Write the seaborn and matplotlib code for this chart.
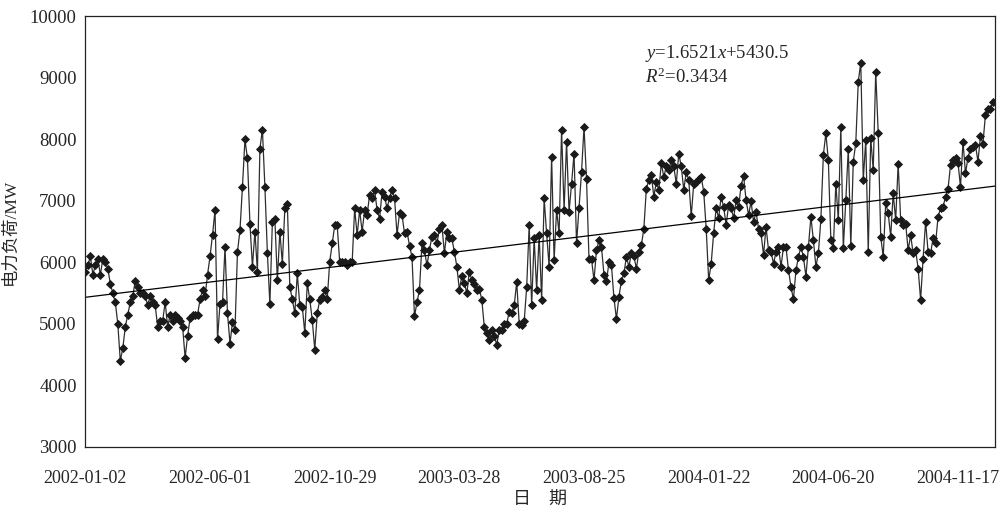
import numpy as np
import pandas as pd
import matplotlib
matplotlib.use("Agg")
import matplotlib.pyplot as plt
import seaborn as sns

# Daily electric load (MW), sampled every 3 days from 2002-01-02
load_2002 = [
    5850, 5950, 6100, 5800, 5950, 6050, 5800, 6050, 6000, 5900,
    5650, 5500, 5350, 5000, 4400, 4600, 4950, 5150, 5350, 5450,
    5700, 5600, 5500, 5500, 5450, 5300, 5450, 5350, 5300, 4950,
    5050, 5050, 5350, 4950, 5150, 5050, 5150, 5100, 5050, 4950,
    4450, 4800, 5100, 5150, 5150, 5150, 5400, 5550, 5450, 5800,
    6100, 6450, 6850, 4750, 5330, 5350, 6250, 5170, 4680, 5030,
    4900, 6170, 6520, 7230, 8000, 7690, 6630, 5930, 6500, 5850,
    7850, 8160, 7230, 6150, 5320, 6660, 6700, 5710, 6500, 5980,
    6880, 6950, 5600, 5400, 5170, 5820, 5300, 5280, 4850, 5660,
    5400, 5060, 4580, 5170, 5390, 5440, 5550, 5400, 6010, 6310,
    6600, 6600, 6010, 6000, 6000, 5950, 6000, 6000, 6880, 6440,
    6850, 6500, 6850, 6770, 7100, 7040, 7180, 6850, 6710, 7150,
    7070,
]
load_2003 = [
    6880, 7050, 7180, 7040, 6450, 6800, 6770, 6470, 6500, 6270,
    6090, 5120, 5350, 5550, 6310, 6200, 5950, 6200, 6420, 6450,
    6310, 6550, 6600, 6150, 6500, 6390, 6390, 6170, 5930, 5550,
    5780, 5660, 5500, 5850, 5710, 5650, 5550, 5570, 5390, 4950,
    4850, 4740, 4900, 4800, 4660, 4900, 4900, 5000, 5000, 5200,
    5170, 5300, 5680, 5000, 4980, 5040, 5600, 6600, 5300, 6390,
    5550, 6450, 5390, 7040, 6470, 5930, 7720, 6040, 6850, 6470,
    8160, 6850, 7960, 6820, 7280, 7770, 6310, 6880, 7470, 8200,
    7350, 6050, 6050, 5710, 6200, 6360, 6250, 5800, 5690, 6000,
    5950, 5420, 5080, 5440, 5700, 5820, 6090, 5930, 6150, 6100,
    5900, 6170, 6280, 6550, 7200, 7340, 7420, 7070, 7310, 7180,
    7610, 7390, 7560, 7500, 7660, 7560, 7280, 7770, 7560, 7180,
    7470, 7340,
]
load_2004 = [
    6750, 7280, 7300, 7360, 7390, 7150, 6550, 5710, 5980, 6480,
    6880, 6720, 7070, 6900, 6610, 6930, 6880, 6720, 7010, 6900,
    7250, 7400, 7010, 6770, 6990, 6660, 6820, 6550, 6470, 6120,
    6580, 6200, 6170, 5980, 6170, 6250, 5930, 6250, 6250, 5880,
    5600, 5400, 5870, 6090, 6250, 6090, 5770, 6250, 6740, 6360,
    5930, 6150, 6700, 7750, 8100, 7660, 6360, 6230, 7280, 6690,
    8200, 6230, 7010, 7850, 6260, 7640, 7940, 8940, 9250, 7340,
    7990, 6170, 8020, 7500, 9100, 8100, 6420, 6090, 6960, 6800,
    6420, 7120, 6690, 7600, 6690, 6600, 6630, 6200, 6440, 6150,
    6200, 5900, 5390, 6060, 6660, 6170, 6150, 6390, 6310, 6740,
    6880, 6900, 7070, 7200, 7580, 7660, 7690, 7620, 7230, 7960,
    7450, 7700, 7850, 7870, 7910, 7640, 8050, 7930, 8400, 8500,
    8500, 8610,
]

start_date = "2002-01-02"
step_days = 3
total_days = 1095
tick_label_dates = ["2002-01-02", "2002-06-01", "2002-10-29", "2003-03-28",
                    "2003-08-25", "2004-01-22", "2004-06-20", "2004-11-17"]
trend_slope = 1.6521
trend_intercept = 5430.5
r_squared = 0.3434

sns.set_theme(style="white")
plt.rcParams["font.family"] = ["Liberation Serif", "Noto Sans CJK SC"]
plt.rcParams["mathtext.fontset"] = "custom"
plt.rcParams["mathtext.rm"] = "Liberation Serif"
plt.rcParams["mathtext.it"] = "Liberation Serif:italic"

values = load_2002 + load_2003 + load_2004
dates = pd.date_range(start_date, periods=len(values), freq=f"{step_days}D")
df = pd.DataFrame({"date": dates, "load": values})

fig = plt.figure(figsize=(10.02, 5.13), dpi=100)
ax = fig.add_axes([0.0848, 0.129, 0.9082, 0.839])

sns.lineplot(data=df, x="date", y="load", ax=ax, color="#2e2e2e",
             linewidth=0.9, marker="D", markersize=3.7,
             markerfacecolor="#1a1a1a", markeredgecolor="#1a1a1a",
             markeredgewidth=0.6)

# Linear trend, x counted as 1-based day index
t0 = pd.Timestamp(start_date)
day_edges = np.array([-0.5, total_days - 0.5])
trend_x = [t0 + pd.Timedelta(days=float(d)) for d in day_edges]
trend_y = trend_slope * (day_edges + 1) + trend_intercept
ax.plot(trend_x, trend_y, color="black", linewidth=0.9)

ax.set_xlim(trend_x[0], trend_x[1])
ax.set_ylim(3000, 10000)
ax.set_yticks(np.arange(3000, 10001, 1000))

label_pos = pd.to_datetime(tick_label_dates)
ax.set_xticks(label_pos)
ax.set_xticklabels(tick_label_dates)
minor_pos = [trend_x[0] + pd.Timedelta(days=90 * k) for k in range(13)]
ax.set_xticks(minor_pos, minor=True)

ax.tick_params(axis="x", which="major", length=0, pad=17, labelsize=13)
ax.tick_params(axis="x", which="minor", direction="in", length=4,
               width=0.8, color="#222222")
ax.tick_params(axis="y", which="major", direction="in", length=4,
               width=0.8, color="#222222", pad=6, labelsize=13.5)

for s in ax.spines.values():
    s.set_color("#222222")
    s.set_linewidth(0.9)

ax.set_xlabel("日\u3000期", fontsize=13, labelpad=3)
ax.set_ylabel("电力负荷/MW", fontsize=12.5, labelpad=8)

fig.text(0.6437, 0.887, r"$y$=1.6521$x$+5430.5", fontsize=13.5, va="baseline")
fig.text(0.6437, 0.838, r"$R^2$=" + f"{r_squared:.4f}", fontsize=13.5,
         va="baseline")

fig.savefig("out.png", dpi=100)
